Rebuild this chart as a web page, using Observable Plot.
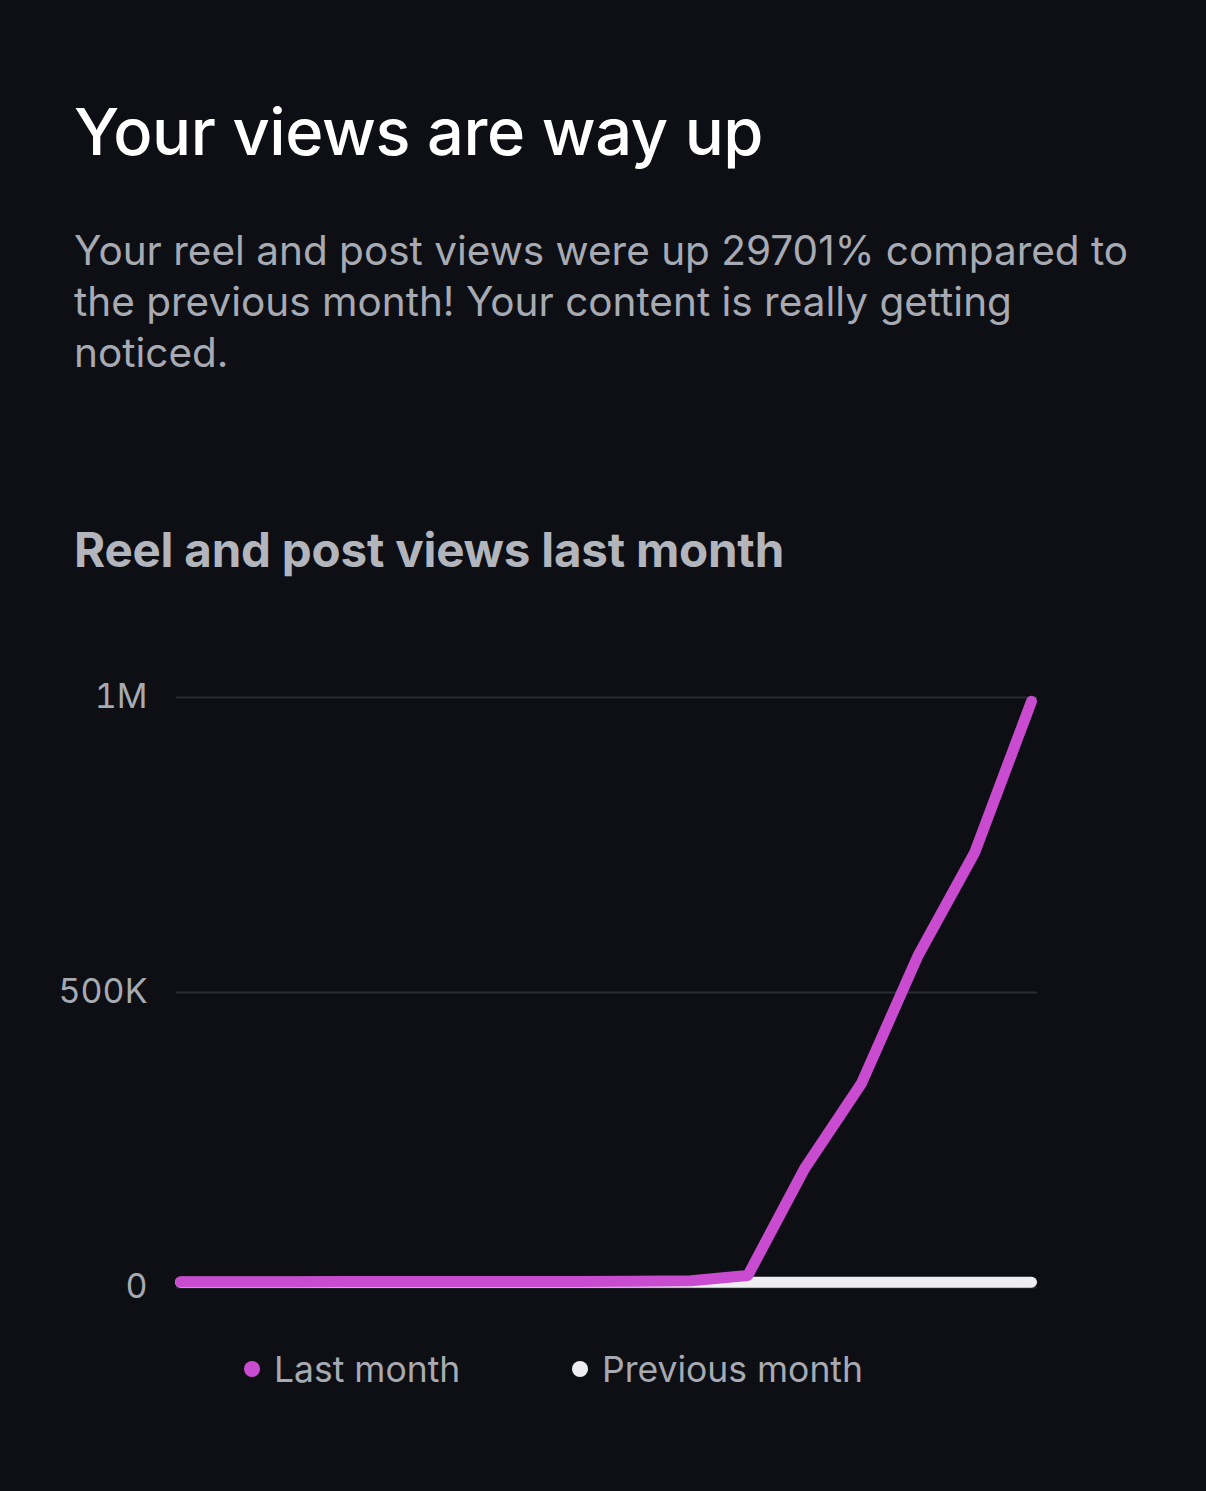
<!DOCTYPE html>
<html>
<head>
<meta charset="utf-8">
<script src="https://cdn.jsdelivr.net/npm/d3@7"></script>
<script src="https://cdn.jsdelivr.net/npm/@observablehq/plot@0.6"></script>
<style>
  html, body { margin: 0; padding: 0; background: #0d0f14; width: 1206px; height: 1491px; overflow: hidden; }
  body { position: relative; font-family: Inter, "Noto Sans", sans-serif; }
  .title { position: absolute; left: 74px; top: 92px; margin: 0; color: #ffffff; font-size: 65px; font-weight: 500; letter-spacing: -0.4px; line-height: 80px; white-space: nowrap; }
  .subtitle { position: absolute; left: 74px; top: 225px; width: 1085px; margin: 0; color: #a7aab2; font-size: 40.5px; font-weight: 400; line-height: 51px; }
  .charttitle { position: absolute; left: 74px; top: 520px; margin: 0; color: #b3b5bc; font-size: 47.5px; font-weight: 700; letter-spacing: -0.2px; line-height: 60px; white-space: nowrap; }
  #chart { position: absolute; left: 0; top: 640px; }
  .legend { position: absolute; top: 1346px; left: 0; width: 1206px; height: 46px; color: #a7aab2; font-size: 35.5px; }
  .legend .item { position: absolute; top: 0; display: flex; align-items: center; height: 46px; }
  .legend .dot { width: 16px; height: 16px; border-radius: 50%; margin-right: 14px; }
</style>
</head>
<body>
<h1 class="title">Your views are way up</h1>
<p class="subtitle">Your reel and post views were up 29701% compared to the previous month! Your content is really getting noticed.</p>
<h2 class="charttitle">Reel and post views last month</h2>
<div id="chart"></div>
<div class="legend" id="legend"></div>
<script>
// Day index within the month (16 sampled points)
const days = [0, 1, 2, 3, 4, 5, 6, 7, 8, 9, 10, 11, 12, 13, 14, 15];
// Reel and post views, last month
const lastMonth = [1200, 1300, 1400, 1500, 1500, 1600, 1700, 1800, 2000, 3000, 12000, 193000, 337000, 554000, 729000, 985000];
// Reel and post views, previous month
const previousMonth = [600, 600, 600, 600, 600, 600, 600, 600, 600, 600, 600, 600, 600, 600, 600, 600];
const yTicks = [0, 500000, 1000000];
const yTickLabels = ["0", "500K", "1M"];
const seriesNames = ["Last month", "Previous month"];
const seriesColors = ["#c94bcf", "#eeeef0"];

const prevData = days.map((d, i) => ({day: d, views: previousMonth[i]}));
const lastData = days.map((d, i) => ({day: d, views: lastMonth[i]}));

const chart = Plot.plot({
  width: 1206,
  height: 690,
  marginLeft: 176,
  marginRight: 169,
  marginTop: 57,
  marginBottom: 43,
  insetLeft: 4,
  insetRight: 6,
  style: { background: "transparent", fontFamily: "Inter, 'Noto Sans', sans-serif" },
  x: { domain: [0, 15], axis: null },
  y: { domain: [0, 1000000] },
  marks: [
    Plot.ruleY(yTicks, { stroke: "#2a2d34", strokeWidth: 2 }),
    Plot.axisY(yTicks, {
      tickSize: 0,
      tickPadding: 29,
      fontSize: 34,
      fill: "#a7aab2",
      tickFormat: (d) => yTickLabels[yTicks.indexOf(d)],
      label: null
    }),
    Plot.line(prevData, { x: "day", y: "views", stroke: seriesColors[1], strokeWidth: 11, strokeLinecap: "round", strokeLinejoin: "round", dy: -5 }),
    Plot.line(lastData, { x: "day", y: "views", stroke: seriesColors[0], strokeWidth: 11, strokeLinecap: "round", strokeLinejoin: "round", dy: -5 })
  ]
});
document.getElementById("chart").appendChild(chart);

const legend = document.getElementById("legend");
const legendLeft = [244, 572];
seriesNames.forEach((name, i) => {
  const item = document.createElement("div");
  item.className = "item";
  item.style.left = legendLeft[i] + "px";
  const dot = document.createElement("span");
  dot.className = "dot";
  dot.style.background = seriesColors[i];
  const label = document.createElement("span");
  label.textContent = name;
  item.appendChild(dot);
  item.appendChild(label);
  legend.appendChild(item);
});
</script>
</body>
</html>
